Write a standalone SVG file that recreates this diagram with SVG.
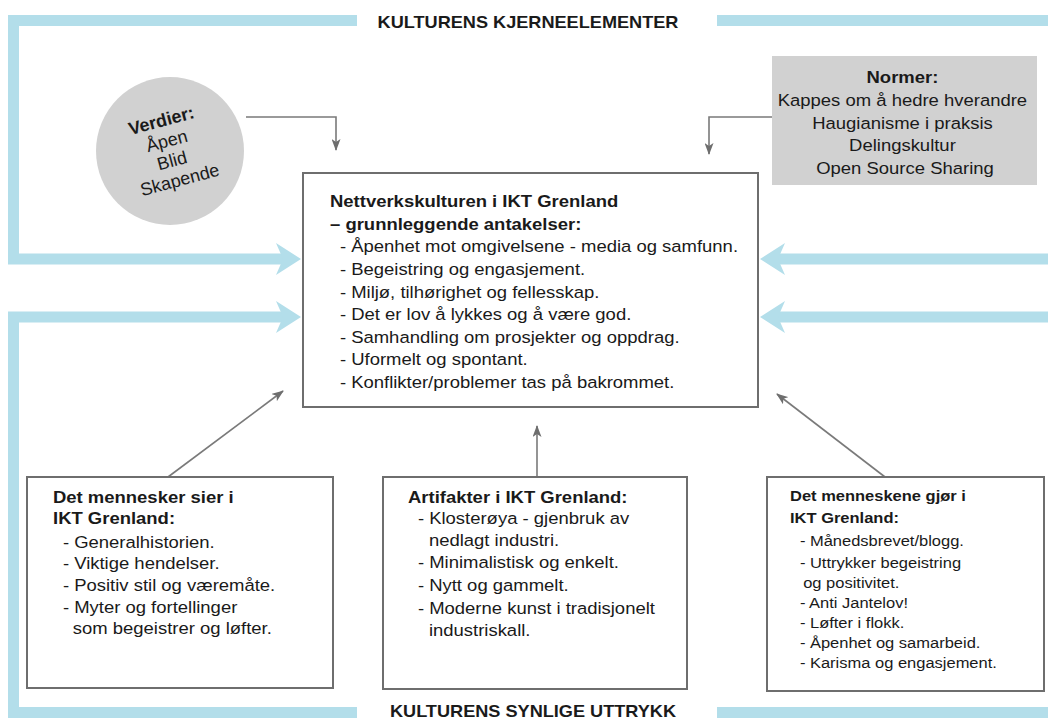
<svg xmlns="http://www.w3.org/2000/svg" width="1048" height="720" viewBox="0 0 1048 720">
<style>
text{font-family:"Liberation Sans",Arial,sans-serif;fill:#1a1a1a}
.b{font-weight:bold}
.t{font-size:16.8px}
.s{font-size:15px}
.hd{font-size:16.5px;font-weight:bold}
.box{fill:#fff;stroke:#6e6e6e;stroke-width:2}
.gray{fill:#d1d1d1}
.band{fill:none;stroke:#b3deea;stroke-width:11;stroke-linejoin:miter}
.head{fill:#b3deea}
.con{fill:none;stroke:#7a7a7a;stroke-width:1.6}
</style>
<defs>
<marker id="ah" markerUnits="userSpaceOnUse" markerWidth="12" markerHeight="9" refX="11" refY="4.5" orient="auto">
<path d="M0,0 L12,4.5 L0,9 L3,4.5 z" fill="#6e6e6e"/>
</marker>
</defs>
<rect width="1048" height="720" fill="#fff"/>

<g id="frame">
<path class="band" d="M357 20.5 H13.5 V259 H284"/>
<polygon class="head" points="301,259 276,243 283,259 276,275"/>
<path class="band" d="M284 317 H13.5 V712.5 H357"/>
<polygon class="head" points="301,317 276,301 283,317 276,333"/>
<path class="band" d="M717 20.5 H1048"/>
<path class="band" d="M717 712.5 H1048"/>
<path class="band" d="M1048 259 H777"/>
<polygon class="head" points="760,259 785,243 778,259 785,275"/>
<path class="band" d="M1048 317 H777"/>
<polygon class="head" points="760,317 785,301 778,317 785,333"/>
</g>

<g id="titles">
<text class="hd" text-anchor="middle" transform="translate(528 28) scale(1.1 1)" x="0" y="0">KULTURENS KJERNEELEMENTER</text>
<text class="hd" text-anchor="middle" transform="translate(533 717) scale(1.1 1)" x="0" y="0">KULTURENS SYNLIGE UTTRYKK</text>
</g>

<g id="connectors">
<path class="con" d="M246 117 H336 V150" marker-end="url(#ah)"/>
<path class="con" d="M772 117 H709 V154" marker-end="url(#ah)"/>
<path class="con" d="M168 477 L283 391" marker-end="url(#ah)"/>
<path class="con" d="M537 477 V426" marker-end="url(#ah)"/>
<path class="con" d="M885 477 L777 394" marker-end="url(#ah)"/>
</g>

<g id="verdier">
<circle class="gray" cx="170" cy="151" r="74"/>
<g transform="rotate(-15 171.5 149)">
<text text-anchor="middle" style="font-size:18px">
<tspan class="b" x="171.5" y="125">Verdier:</tspan>
<tspan x="171.5" y="146">Åpen</tspan>
<tspan x="171.5" y="166.5">Blid</tspan>
<tspan x="171.5" y="187">Skapende</tspan>
</text>
</g>
</g>

<g id="normer">
<rect class="gray" x="772" y="56" width="265" height="129"/>
<text class="t" text-anchor="middle" transform="translate(905 0) scale(1.1 1)">
<tspan class="b" x="0" y="83">Normer:</tspan>
<tspan x="0" y="106">Kappes om å hedre hverandre</tspan>
<tspan x="0" y="129">Haugianisme i praksis</tspan>
<tspan x="0" y="151">Delingskultur</tspan>
<tspan x="0" y="174">Open Source Sharing</tspan>
</text>
</g>

<g id="grunnleggende">
<rect class="box" x="303" y="173" width="455" height="234"/>
<text class="t" transform="translate(330 0) scale(1.1 1)">
<tspan class="b" x="0" y="207">Nettverkskulturen i IKT Grenland</tspan>
<tspan class="b" x="0" y="230">– grunnleggende antakelser:</tspan>
<tspan x="9" y="252">- Åpenhet mot omgivelsene - media og samfunn.</tspan>
<tspan x="9" y="275">- Begeistring og engasjement.</tspan>
<tspan x="9" y="298">- Miljø, tilhørighet og fellesskap.</tspan>
<tspan x="9" y="320">- Det er lov å lykkes og å være god.</tspan>
<tspan x="9" y="343">- Samhandling om prosjekter og oppdrag.</tspan>
<tspan x="9" y="365">- Uformelt og spontant.</tspan>
<tspan x="9" y="388">- Konflikter/problemer tas på bakrommet.</tspan>
</text>
</g>

<g id="sier">
<rect class="box" x="27" y="477" width="306" height="211"/>
<text class="t" transform="translate(53 0) scale(1.1 1)">
<tspan class="b" x="0" y="503">Det mennesker sier i</tspan>
<tspan class="b" x="0" y="524">IKT Grenland:</tspan>
<tspan x="9" y="548">- Generalhistorien.</tspan>
<tspan x="9" y="569">- Viktige hendelser.</tspan>
<tspan x="9" y="591">- Positiv stil og væremåte.</tspan>
<tspan x="9" y="613">- Myter og fortellinger</tspan>
<tspan x="18" y="634">som begeistrer og løfter.</tspan>
</text>
</g>

<g id="artifakter">
<rect class="box" x="383" y="477" width="304" height="212"/>
<text class="t" transform="translate(408 0) scale(1.1 1)">
<tspan class="b" x="0" y="503">Artifakter i IKT Grenland:</tspan>
<tspan x="9" y="524">- Klosterøya - gjenbruk av</tspan>
<tspan x="19" y="546">nedlagt industri.</tspan>
<tspan x="9" y="568">- Minimalistisk og enkelt.</tspan>
<tspan x="9" y="591">- Nytt og gammelt.</tspan>
<tspan x="9" y="614">- Moderne kunst i tradisjonelt</tspan>
<tspan x="19" y="636">industriskall.</tspan>
</text>
</g>

<g id="gjor">
<rect class="box" x="767" y="477" width="277" height="214"/>
<text class="s" transform="translate(790 0) scale(1.1 1)">
<tspan class="b" x="0" y="501">Det menneskene gjør i</tspan>
<tspan class="b" x="0" y="523">IKT Grenland:</tspan>
<tspan x="9" y="546">- Månedsbrevet/blogg.</tspan>
<tspan x="9" y="568">- Uttrykker begeistring</tspan>
<tspan x="12" y="588">og positivitet.</tspan>
<tspan x="9" y="608">- Anti Jantelov!</tspan>
<tspan x="9" y="628">- Løfter i flokk.</tspan>
<tspan x="9" y="648">- Åpenhet og samarbeid.</tspan>
<tspan x="9" y="668">- Karisma og engasjement.</tspan>
</text>
</g>
</svg>
